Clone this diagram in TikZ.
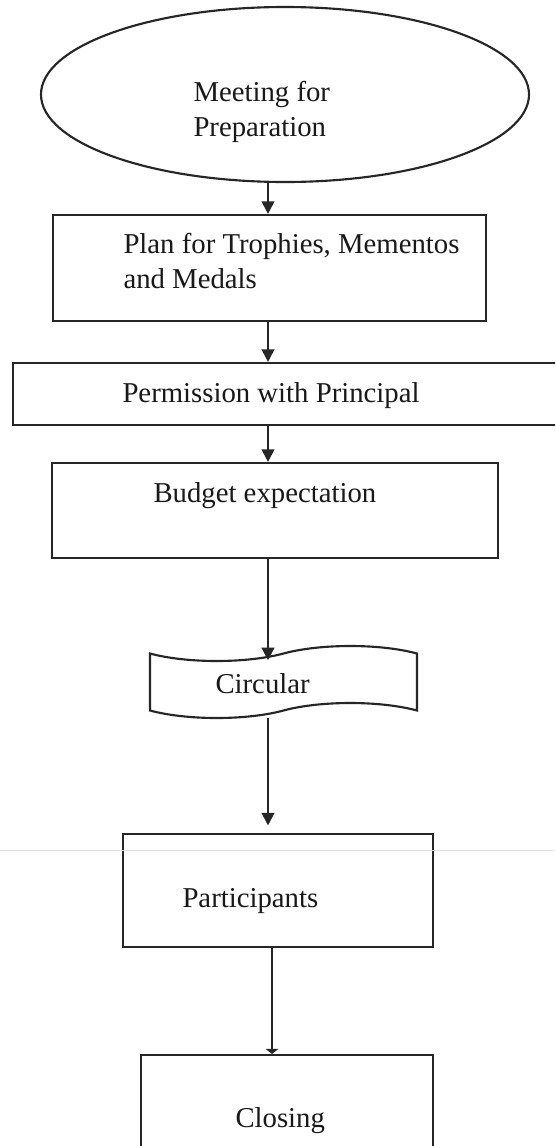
\documentclass[tikz,border=0pt]{standalone}
\usepackage{fontspec}
\setmainfont{Liberation Serif}
\usetikzlibrary{arrows.meta}
\usetikzlibrary{shapes.geometric}
\usetikzlibrary{shapes.symbols}

\begin{document}
\begin{tikzpicture}[x=0.4pt,y=-0.4pt,
    font=\fontsize{11.5}{14}\selectfont,
    box/.style={draw=black!85,line width=0.85pt,fill=white,inner sep=0pt},
    lbl/.style={inner sep=0pt,align=left,text=black!90},
    arr/.style={draw=black!85,line width=0.85pt,-{Triangle[length=5pt,width=5pt]}}]
        \useasboundingbox (0,0) rectangle (555,1146);
        \clip (0,0) rectangle (555,1146);
        \fill [white] (0,0) rectangle (555,1146);

        % Shapes
        \node [box,ellipse,minimum width=195.2pt,minimum height=70pt] (meet) at (285,94.5) {};
        \node [box,minimum width=173.2pt,minimum height=42.4pt] (plan) at (269.5,268) {};
        \node [box,minimum width=234.8pt,minimum height=24.8pt] (perm) at (306.5,394) {};
        \node [box,minimum width=178.4pt,minimum height=38pt] (budget) at (275,510.5) {};
        \node [box,tape,tape bend height=6pt,minimum width=106.8pt,minimum height=28.8pt] (circ) at (283.5,682) {};
        \node [box,minimum width=124pt,minimum height=45.2pt] (part) at (278,890.5) {};
        \node [box,minimum width=116.8pt,minimum height=50pt] (close) at (287,1117.5) {};

        % Scan line
        \draw [black!12,line width=0.4pt] (0,850) -- (555,850);

        % Labels
        \node [lbl,anchor=north west] (meetlbl) at (193,80.3) {Meeting for\\Preparation};
        \node [lbl,anchor=north west] (planlbl) at (123,232.3) {Plan for Trophies, Mementos\\and Medals};
        \node [lbl,anchor=base west] (permlbl) at (122,402) {Permission with Principal};
        \node [lbl,anchor=base west] (budgetlbl) at (153,502) {Budget expectation};
        \node [lbl,anchor=base west] (circlbl) at (215,693) {Circular};
        \node [lbl,anchor=base west] (partlbl) at (182,907) {Participants};
        \node [lbl,anchor=base west] (closelbl) at (235,1127) {Closing};

        % Arrows
        \coordinate (spine) at (268,0);
        \coordinate (spinetwo) at (272,0);
        \draw [arr] (spine |- meet.south) -- (spine |- plan.north);
        \draw [arr] (spine |- plan.south) -- (spine |- perm.north);
        \draw [arr] (spine |- perm.south) -- (spine |- budget.north);
        \draw [arr,shorten >=-3pt] (spine |- budget.south) -- (spine |- circ.north);
        \draw [arr,shorten <=2.5pt,shorten >=3pt] (spine |- circ.south) -- (spine |- part.north);
        \draw [arr,-{Triangle[length=2pt,width=5pt]}] (spinetwo |- part.south) -- (spinetwo |- close.north);
\end{tikzpicture}
\end{document}
